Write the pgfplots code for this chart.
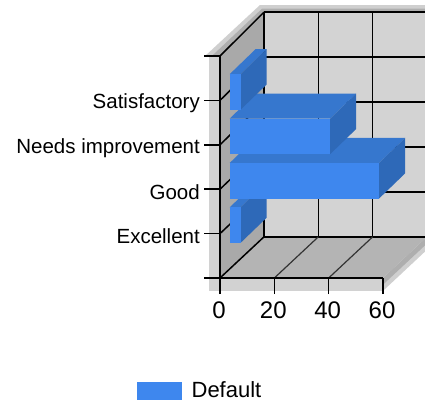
\documentclass[border=0pt]{standalone}
\usepackage{pgfplots}
\usepackage{fontspec}
\setmainfont{Liberation Sans}
\pgfplotsset{compat=1.18}
\definecolor{barF}{HTML}{3E87EE}
\definecolor{barT}{HTML}{3677CE}
\definecolor{barS}{HTML}{2E69B8}
\definecolor{wallB}{HTML}{D3D3D3}
\definecolor{wallL}{HTML}{A9A9A9}
\definecolor{flr}{HTML}{B4B4B4}
\definecolor{frm}{HTML}{D2D2D2}
\definecolor{band}{HTML}{CFCFCF}
\definecolor{bandin}{HTML}{AEAEAE}
\pgfplotsset{
 face/.style={fill=#1,draw=none,no markers,forget plot},
 gl/.style={black,line width=1.5pt,no markers,forget plot},
 gf/.style={black!80,line width=1.2pt,no markers,forget plot},
}
% one bar: value, bottom, top
\newcommand{\hbarr}[3]{%
 \addplot3[face=barT] coordinates {(0,#3,0.22) (#1,#3,0.22) (#1,#3,0.81) (0,#3,0.81)};
 \addplot3[face=barS] coordinates {(#1,#2,0.22) (#1,#3,0.22) (#1,#3,0.81) (#1,#2,0.81)};
 \addplot3[face=barF] coordinates {(0,#2,0.22) (#1,#2,0.22) (#1,#3,0.22) (0,#3,0.22)};
}
\begin{document}
\begin{tikzpicture}
\clip (0,-408pt) rectangle (425pt,0pt);
\begin{axis}[
  at={(220pt,-278pt)},anchor=origin,
  x={(2.7167pt,0pt)},y={(0pt,44.4pt)},z={(44pt,42.5pt)},
  xmin=0,xmax=60,ymin=0,ymax=5,zmin=0,zmax=1,
  hide axis,clip=false]
 % frame
 \addplot3[face=frm] coordinates {(-4.05,5,0) (-4.05,-0.29,0) (60,-0.29,0) (60,0,0) (0,0,0) (0,5,0)};
 \addplot3[face=band] coordinates {(-5.5,5,0) (-1.5,5.19,1) (62,5.19,1) (62,5.03,1) (0,5.03,1) (0,5,0)};
 \addplot3[face=bandin] coordinates {(-3,5,0) (-0.7,5.11,1) (62,5.11,1) (62,5.03,1) (0,5.03,1) (0,5,0)};
 \addplot3[face=band] coordinates {(60,0,0) (60,-0.29,0) (60,-0.32,1) (60,-0.03,1)};
 \addplot3[face=bandin] coordinates {(60,0,0) (60,-0.15,0) (60,-0.18,1) (60,-0.03,1)};
 % walls
 \addplot3[face=wallB] coordinates {(0,-0.03,1) (62,-0.03,1) (62,5.03,1) (0,5.03,1)};
 \addplot3[face=wallL] coordinates {(0,0,0) (0,-0.03,1) (0,5.03,1) (0,5,0)};
 \addplot3[face=flr] coordinates {(0,0,0) (60,0,0) (60,-0.03,1) (0,-0.03,1)};
 % back-wall grid
 \addplot3[gl] coordinates {(0,-0.03,1) (0,5.03,1)};
 \addplot3[gl] coordinates {(20,-0.03,1) (20,5.03,1)};
 \addplot3[gl] coordinates {(40,-0.03,1) (40,5.03,1)};
 \addplot3[gl] coordinates {(0,0.98,1) (62,0.98,1)};
 \addplot3[gl] coordinates {(0,1.99,1) (62,1.99,1)};
 \addplot3[gl] coordinates {(0,3.01,1) (62,3.01,1)};
 \addplot3[gl] coordinates {(0,4.02,1) (62,4.02,1)};
 \addplot3[gl] coordinates {(0,5.03,1) (62,5.03,1)};
 \addplot3[gl] coordinates {(0,-0.03,1) (62,-0.03,1)};
 % left-wall grid
 \addplot3[gl] coordinates {(0,0,0) (0,-0.03,1)};
 \addplot3[gl] coordinates {(0,1,0) (0,0.98,1)};
 \addplot3[gl] coordinates {(0,2,0) (0,1.99,1)};
 \addplot3[gl] coordinates {(0,3,0) (0,3.01,1)};
 \addplot3[gl] coordinates {(0,4,0) (0,4.02,1)};
 \addplot3[gl] coordinates {(0,5,0) (0,5.03,1)};
 % floor grid
 \addplot3[gf] coordinates {(20,0,0) (20,-0.03,1)};
 \addplot3[gf] coordinates {(40,0,0) (40,-0.03,1)};
 % bars
 \hbarr{4}{0.58}{1.38}
 \hbarr{55}{1.58}{2.38}
 \hbarr{37}{2.58}{3.38}
 \hbarr{4}{3.58}{4.38}
\end{axis}
\begin{axis}[
  at={(220pt,-278pt)},anchor=south west,
  x=2.7167pt,y=44.4pt,
  xmin=0,xmax=60,ymin=0,ymax=5,
  axis x line*=bottom,axis y line*=left,
  axis line style={black,line width=1.5pt,-},
  tick align=outside,
  tick style={black,line width=1.5pt},
  xtick={0,20,40,60},
  ytick={0,1,2,3,4,5},
  yticklabels={,Excellent,Good,Needs improvement,Satisfactory,},
  major tick length=16pt,
  xticklabel style={font=\fontsize{24pt}{26pt}\selectfont,inner sep=0pt,yshift=-8pt,xshift=-1pt},
  yticklabel style={font=\fontsize{20.5pt}{23pt}\selectfont,inner sep=0pt,xshift=-4pt,yshift=-3pt},
  /pgf/number format/assume math mode=true,
  clip=false,
  legend style={at={(-0.509,-0.5075)},anchor=west,draw=none,fill=none,inner sep=0pt,
     font=\fontsize{22pt}{24pt}\selectfont,legend cell align=left},
  legend image code/.code={\fill[barF] (0pt,-8.8pt) rectangle (44pt,8.8pt);},
]
 \addlegendimage{fill=barF}
 \addlegendentry{\hspace*{8pt}Default}
\end{axis}
\end{tikzpicture}
\end{document}
